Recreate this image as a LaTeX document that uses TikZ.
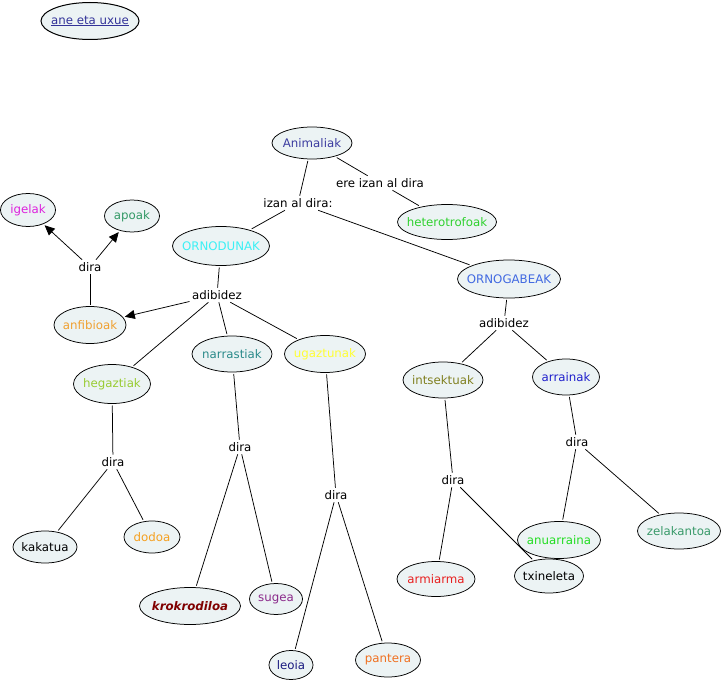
\documentclass[tikz,border=0pt]{standalone}
\usepackage{fontspec}
\setmainfont{DejaVu Sans}
\usetikzlibrary{shapes.geometric,arrows.meta}
\definecolor{cfill}{HTML}{ECF3F4}
\definecolor{cane}{HTML}{333399}
\definecolor{canim}{HTML}{3C3CA0}
\definecolor{chet}{HTML}{2FD12F}
\definecolor{cornod}{HTML}{3CF0F5}
\definecolor{cornog}{HTML}{4169E1}
\definecolor{cigel}{HTML}{DD22DD}
\definecolor{capo}{HTML}{339966}
\definecolor{canfib}{HTML}{F0A030}
\definecolor{cnarr}{HTML}{2A8A8A}
\definecolor{cugaz}{HTML}{FFFF33}
\definecolor{chegaz}{HTML}{99CC33}
\definecolor{cints}{HTML}{808020}
\definecolor{carr}{HTML}{2020CC}
\definecolor{cdodoa}{HTML}{F5A020}
\definecolor{ckrok}{HTML}{800000}
\definecolor{csugea}{HTML}{8B2A8B}
\definecolor{cleoia}{HTML}{1A1A80}
\definecolor{cpant}{HTML}{F07020}
\definecolor{carmi}{HTML}{E82020}
\definecolor{canuar}{HTML}{22DD22}
\definecolor{czelak}{HTML}{3A9A6A}
\newcommand{\zw}[1]{\makebox[0pt]{#1}}
\tikzset{
  cpt/.style={ellipse, draw=black, fill=cfill, line width=0.75pt, inner sep=0pt, outer sep=2pt},
  lnk/.style={inner sep=2.5pt, text=black},
  con/.style={draw=black, line width=0.75pt},
  arr/.style={con, -{Triangle[length=10pt,width=9pt]}}
}
\begin{document}
\begin{tikzpicture}[x=1pt,y=-1pt,font=\fontsize{11.8}{14}\selectfont]
\useasboundingbox (0,0) rectangle (723,682);
% concepts
\node[cpt, minimum width=98pt, minimum height=37pt, text=cane, line width=1pt] (ane) at (90,21) {\zw{\underline{ane eta uxue}}};
\node[cpt, minimum width=80pt, minimum height=32pt, text=canim] (anim) at (312,143) {\zw{Animaliak}};
\node[cpt, minimum width=99pt, minimum height=35pt, text=chet] (het) at (447,222) {\zw{heterotrofoak}};
\node[cpt, minimum width=97pt, minimum height=39pt, text=cornod] (ornod) at (221,246) {\zw{ORNODUNAK}};
\node[cpt, minimum width=103pt, minimum height=38pt, text=cornog] (ornog) at (509,279) {\zw{ORNOGABEAK}};
\node[cpt, minimum width=55pt, minimum height=33pt, text=cigel] (igel) at (28,210) {\zw{igelak}};
\node[cpt, minimum width=55pt, minimum height=32pt, text=capo] (apo) at (132,216) {\zw{apoak}};
\node[cpt, minimum width=72pt, minimum height=37pt, text=canfib] (anfib) at (90,325) {\zw{anfibioak}};
\node[cpt, minimum width=77pt, minimum height=39pt, text=chegaz] (hegaz) at (112,384) {\zw{hegaztiak}};
\node[cpt, minimum width=80pt, minimum height=36pt, text=cnarr] (narr) at (232,354) {\zw{narrastiak}};
\node[cpt, minimum width=81pt, minimum height=37pt, text=cugaz] (ugaz) at (325,354) {\zw{ugaztunak}};
\node[cpt, minimum width=80pt, minimum height=36pt, text=cints] (ints) at (443,380) {\zw{intsektuak}};
\node[cpt, minimum width=67pt, minimum height=36pt, text=carr] (arr) at (566,377) {\zw{arrainak}};
\node[cpt, minimum width=64pt, minimum height=32pt, text=black] (kak) at (45,547) {\zw{kakatua}};
\node[cpt, minimum width=56pt, minimum height=32pt, text=cdodoa] (dodoa) at (152,537) {\zw{dodoa}};
\node[cpt, minimum width=101pt, minimum height=37pt, text=ckrok] (krok) at (190,606) {\zw{\bfseries\itshape krokrodiloa}};
\node[cpt, minimum width=53pt, minimum height=31pt, text=csugea] (sugea) at (276,599) {\zw{sugea}};
\node[cpt, minimum width=44pt, minimum height=29pt, text=cleoia] (leoia) at (291,665) {\zw{leoia}};
\node[cpt, minimum width=65pt, minimum height=34pt, text=cpant] (pant) at (388,660) {\zw{pantera}};
\node[cpt, minimum width=78pt, minimum height=35pt, text=carmi] (armi) at (436,579) {\zw{armiarma}};
\node[cpt, minimum width=83pt, minimum height=37pt, text=canuar] (anuar) at (559,540) {\zw{anuarraina}};
\node[cpt, minimum width=69pt, minimum height=34pt, text=black] (txin) at (549,576) {\zw{txineleta}};
\node[cpt, minimum width=83pt, minimum height=36pt, text=czelak] (zelak) at (679,531) {\zw{zelakantoa}};
% linking phrases
\node[lnk] (ere) at (380,183) {ere izan al dira};
\node[lnk] (izan) at (298,203) {izan al dira:};
\node[lnk] (dira0) at (90,267) {dira};
\node[lnk] (adib1) at (217,295) {adibidez};
\node[lnk] (adib2) at (504,323) {adibidez};
\node[lnk] (dira1) at (113,462) {dira};
\node[lnk] (dira2) at (240,447) {dira};
\node[lnk] (dira3) at (336,495) {dira};
\node[lnk] (dira4) at (453,480) {dira};
\node[lnk] (dira5) at (577,442) {dira};
% connectors
\draw[con] (anim) -- (ere);
\draw[con] (ere) -- (het);
\draw[con] (anim) -- (izan);
\draw[con] (izan) -- (ornod);
\draw[con] (izan) -- (ornog);
\draw[con] (ornod) -- (adib1);
\draw[arr] (adib1) -- (anfib);
\draw[con] (adib1) -- (hegaz);
\draw[con] (adib1) -- (narr);
\draw[con] (adib1) -- (ugaz);
\draw[con] (anfib) -- (dira0);
\draw[arr] (dira0) -- (igel);
\draw[arr] (dira0) -- (apo);
\draw[con] (ornog) -- (adib2);
\draw[con] (adib2) -- (ints);
\draw[con] (adib2) -- (arr);
\draw[con] (hegaz) -- (dira1);
\draw[con] (dira1) -- (kak);
\draw[con] (dira1) -- (dodoa);
\draw[con] (narr) -- (dira2);
\draw[con] (dira2) -- (krok);
\draw[con] (dira2) -- (sugea);
\draw[con] (ugaz) -- (dira3);
\draw[con] (dira3) -- (leoia);
\draw[con] (dira3) -- (pant);
\draw[con] (ints) -- (dira4);
\draw[con] (dira4) -- (armi);
\draw[con] (dira4) -- (txin);
\draw[con] (arr) -- (dira5);
\draw[con] (dira5) -- (anuar);
\draw[con] (dira5) -- (zelak);
\end{tikzpicture}
\end{document}
